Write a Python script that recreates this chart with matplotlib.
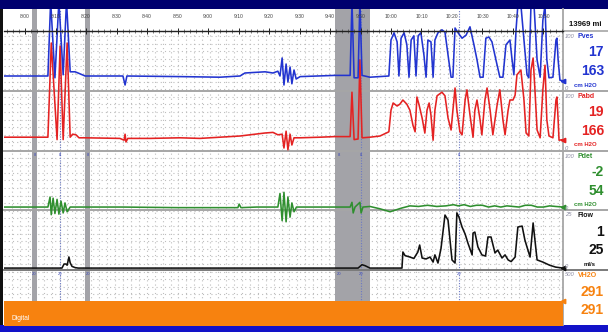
import matplotlib
matplotlib.use("Agg")
import matplotlib.pyplot as plt
from matplotlib.patches import Rectangle, FancyBboxPatch
from matplotlib.lines import Line2D

plt.rcParams['font.family'] = ['Liberation Sans', 'DejaVu Sans']

# ---------------- data ----------------
tick_times = [480, 490, 500, 510, 520, 530, 540, 550, 560, 570, 580, 590,
              600, 610, 620, 630, 640, 650]
tick_labels = ["8:00", "8:10", "8:20", "8:30", "8:40", "8:50", "9:00", "9:10",
               "9:20", "9:30", "9:40", "9:50", "10:00", "10:10", "10:20",
               "10:30", "10:40", "10:50"]

pves_t = [473.1, 487.5, 488.4, 489.8, 491.1, 492.5, 493.6, 494.8, 496.4, 497.4,
          499.7, 512.1, 512.8, 513.4, 530.8, 543.9, 550.5, 552.1, 555.4, 558.7,
          561.3, 562.9, 563.6, 564.3, 564.9, 565.6, 566.2, 566.9, 567.5, 568.2,
          568.9, 570.2, 581.6, 586.6, 587.2, 587.9, 589.2, 589.8, 590.5, 593.1,
          599.3, 600.0, 601.0, 602.0, 602.6, 603.3, 604.3, 605.2, 605.9, 606.6,
          607.5, 608.2, 608.9, 609.8, 610.8, 611.5, 612.1, 613.1, 613.8, 614.4,
          615.4, 616.7, 617.7, 618.7, 619.7, 620.3, 621.0, 622.0, 623.3, 624.6,
          625.9, 627.2, 628.2, 629.2, 630.2, 631.1, 632.1, 633.1, 634.4, 635.7,
          636.7, 637.7, 639.0, 639.7, 640.3, 641.0, 641.6, 642.6, 643.6, 644.6,
          645.2, 645.9, 646.9, 647.9, 648.9, 649.8, 650.5, 651.1, 651.8, 653.1,
          654.1, 654.4, 654.8, 655.4, 656.4]
pves_v = [25, 25, 150, 22, 150, 27, 150, 32, 32, 30,
          25, 25, 10, 25, 24, 23, 25, 30, 31, 32,
          30, 33, 25, 55, 10, 45, 15, 40, 12, 35,
          20, 24, 26, 26, 150, 22, 22, 150, 26, 23,
          25, 85, 97, 82, 25, 88, 97, 77, 23, 85,
          92, 25, 92, 97, 60, 23, 85, 82, 23, 85,
          97, 102, 98, 60, 23, 23, 105, 97, 88, 93,
          107, 77, 52, 23, 23, 88, 90, 82, 52, 23,
          23, 77, 85, 52, 27, 102, 143, 143, 85, 27,
          22, 143, 143, 52, 23, 118, 143, 52, 22, 23,
          85, 88, 52, 18, 17]

pabd_t = [473.1, 487.5, 488.6, 490.5, 491.5, 492.5, 493.8, 494.8, 495.6, 496.7,
          497.7, 499.7, 511.1, 512.5, 512.8, 513.1, 513.7, 521.0, 530.8, 537.4,
          543.9, 550.5, 555.4, 558.7, 561.3, 562.9, 564.3, 564.9, 565.6, 566.2,
          566.9, 567.5, 568.2, 570.2, 576.7, 581.6, 586.6, 587.2, 587.9, 589.2,
          589.8, 590.5, 593.1, 596.4,
          599.3, 600.0, 600.7, 602.0, 602.9, 603.9, 605.2, 606.2, 607.2, 607.9,
          608.5, 609.2, 610.2, 611.1, 611.8, 612.5, 613.1, 613.8, 614.4, 615.1,
          616.7, 617.7, 618.7, 619.7, 620.3, 621.0, 621.6, 622.6, 623.3, 624.3,
          624.9, 625.9, 626.9, 627.5, 628.2, 629.2, 629.8, 630.8, 631.5, 632.5,
          633.4, 634.8, 635.7, 636.7, 637.4, 638.4, 639.0, 640.0, 640.7, 641.3,
          642.6, 643.6, 644.3, 645.2, 645.9, 646.6, 647.2, 647.9, 648.9, 649.8,
          650.5, 651.1, 651.8, 653.1, 654.1, 654.4, 654.8, 655.1, 656.4]
pabd_v = [23, 23, 180, 19, 175, 19, 180, 23, 28, 27,
          22, 22, 21, 18, 28, 15, 21, 21, 22, 21,
          23, 25, 28, 30, 31, 27, 28, 5, 33, 2,
          28, 10, 22, 22, 23, 24, 24, 98, 19, 20,
          152, 22, 23, 25,
          32, 68, 80, 75, 78, 85, 78, 68, 43, 32,
          90, 77, 55, 30, 68, 80, 60, 18, 68, 92,
          98, 92, 55, 35, 68, 105, 68, 32, 27, 85,
          102, 60, 23, 68, 85, 52, 27, 85, 105, 68,
          27, 77, 102, 52, 27, 68, 85, 85, 93, 127,
          135, 85, 30, 25, 135, 155, 102, 35, 22, 102,
          143, 52, 25, 22, 85, 90, 52, 18, 19]

pdet_t = [473.1, 487.5, 488.2, 488.6, 489.2, 489.8, 490.5, 491.1, 491.8, 492.5,
          493.1, 493.8, 494.8, 512.0, 530.0, 549.8, 550.2, 550.8, 556.0, 562.9,
          563.6, 564.3, 564.9, 565.6, 566.2, 566.9, 567.5, 568.2, 569.0, 581.6,
          586.6, 587.2, 587.6, 588.2, 589.8, 590.2, 590.8, 593.1, 596.4, 599.7,
          603.3, 606.2, 609.0, 612.0, 615.0, 618.0, 620.5, 622.0, 624.0, 626.0,
          628.0, 630.0, 632.0, 634.0, 636.0, 638.0, 640.0, 642.0, 644.0, 646.0,
          648.0, 650.0, 652.0, 654.0, 656.4]
pdet_v = [5, 5, 22, -8, 20, -6, 18, -7, 15, -5,
          12, -3, 5, 5, 4, 4, 10, 4, 5, 5,
          28, -18, 30, -20, 22, -12, 12, -3, 5, 5,
          5, 13, -5, 5, 13, -5, 5, 6, 2, -3,
          3, 7, 6, 8, 6, 7, 9, 7, 9, 6,
          8, 8, 5, 7, 5, 7, 6, 5, 8, 8,
          5, 5, 7, 6, 5]

flow_t = [473.1, 492.1, 492.8, 493.4, 493.8, 494.4, 494.8, 495.4, 496.4, 497.4,
          589.2, 590.5, 591.5, 593.1, 603.6, 603.9, 604.6, 606.2, 607.5, 608.8,
          609.4, 610.2, 611.5, 612.8, 613.8, 614.4, 615.4, 616.4, 617.7, 618.7,
          620.0, 621.0, 621.6, 622.3, 623.3, 624.3, 625.2, 626.6, 626.9, 627.5,
          628.5, 629.8, 631.0, 631.8, 632.8, 634.1, 635.0, 636.4, 637.4, 638.4,
          639.4, 640.7, 641.6, 643.0, 643.9, 644.9, 645.6, 646.6, 647.9, 649.8,
          652.0, 654.0, 656.4]
flow_v = [0.8, 0.8, 2.5, 2.5, 2.0, 5.4, 3.0, 1.5, 1.0, 0.8,
          0.8, 2.2, 1.8, 0.8, 0.8, 7.5, 6.0, 5.4, 4.8, 7.5,
          10.4, 5.0, 4.6, 5.4, 3.3, 6.3, 2.9, 9.0, 22.9, 20.8,
          4.2, 2.9, 23.8, 22.0, 17.9, 15.0, 11.3, 6.3, 15.4, 15.8,
          9.6, 6.3, 5.8, 13.75, 13.75, 7.1, 8.3, 5.0, 6.3, 4.2,
          3.5, 5.4, 17.9, 18.3, 12.5, 8.3, 5.4, 19.6, 4.2, 3.3,
          2.0, 1.2, 0.8]

vol_t = [473.1, 656.4]
vol_v = [291, 291]

marked_spans = [(482.3, 483.9), (499.7, 501.3), (581.6, 593.1)]
event_times = [491.5, 590.2, 622.3]

panel_names = ["Pves", "Pabd", "Pdet", "Flow", "VH2O"]
panel_cur = ["17", "19", "-2", "1", "291"]
panel_max = ["163", "166", "54", "25", "291"]
panel_top = ["100", "100", "100", "25", "500"]
panel_units = ["cm H2O", "cm H2O", "cm H2O", "ml/s", ""]
header_text = "13969 mi"

# ---------------- layout helpers ----------------
W, H = 608.0, 332.0
def fx(px): return px / W
def fy(py): return 1 - py / H

T0, T1 = 473.1, 656.4
PX0, PX1 = 4, 563

c_blue = '#2234d0'
c_red = '#e42222'
c_green = '#2f8f2f'
c_black = '#111111'
c_orange = '#f7820f'
c_sep = '#a6a6a6'

fig = plt.figure(figsize=(6.08, 3.32), dpi=100)
fig.patch.set_facecolor('white')

# grid (dotted) area
ax_grid = fig.add_axes([fx(PX0), fy(302), (PX1 - PX0) / W, 271 / H], zorder=0)
ax_grid.set_xlim(T0, T1)
ax_grid.set_ylim(0, 271)
ax_grid.set_xticks([T0 + 2.6 * i for i in range(1, 71)])
ax_grid.set_yticks([7.6 * i for i in range(1, 36)])
ax_grid.tick_params(length=0, labelbottom=False, labelleft=False)
ax_grid.grid(True, color='#bdbdbd', lw=0.8, linestyle=(0, (1, 2.8)))
for s in ax_grid.spines.values():
    s.set_visible(False)

# background: marked spans and event lines
ax_bg = fig.add_axes([fx(PX0), fy(325), (PX1 - PX0) / W, 316 / H], zorder=1)
ax_bg.set_facecolor('none')
ax_bg.set_xlim(T0, T1)
ax_bg.set_ylim(0, 316)
ax_bg.axis('off')
for a, b in marked_spans:
    ax_bg.axvspan(a, b, ymin=(325 - 304) / 316, ymax=1, color='#a3a3a8', lw=0)
for t in event_times:
    ax_bg.axvline(t, ymin=(325 - 305) / 316, ymax=1, color='#6a78c4',
                  lw=0.8, ls=(0, (1, 1.4)))

# clip rectangle for traces
clip_rect = Rectangle((fx(PX0), fy(325)), (PX1 - PX0) / W, 316 / H,
                      transform=fig.transFigure)

def channel_axes(top_px, bot_px, ylim):
    ax = fig.add_axes([fx(PX0), fy(bot_px), (PX1 - PX0) / W, (bot_px - top_px) / H],
                      zorder=2)
    ax.set_facecolor('none')
    ax.set_xlim(T0, T1)
    ax.set_ylim(*ylim)
    ax.axis('off')
    return ax

ax_vol = channel_axes(270, 345, (0, 500))
fills = ax_vol.fill_between(vol_t, 0, vol_v, color=c_orange, lw=0)
fills.set_clip_path(clip_rect)

ax_flow = channel_axes(210, 270, (0, 25))
ax_pdet = channel_axes(151, 210, (0, 100))
ax_pabd = channel_axes(91, 151, (0, 100))
ax_pves = channel_axes(31, 91, (0, 100))

for ax, t, v, c in [(ax_flow, flow_t, flow_v, c_black),
                    (ax_pdet, pdet_t, pdet_v, c_green),
                    (ax_pabd, pabd_t, pabd_v, c_red),
                    (ax_pves, pves_t, pves_v, c_blue)]:
    ln, = ax.plot(t, v, color=c, lw=1.15, solid_joinstyle='round')
    ln.set_clip_path(clip_rect)
    ax.plot([t[-1]], [v[-1]], marker='<', color=c, ms=3.2, clip_on=False)
ax_vol.plot([vol_t[-1]], [vol_v[-1]], marker='<', color=c_orange, ms=3.2, clip_on=False)

# time ruler
ax_r = fig.add_axes([fx(PX0), fy(31), (PX1 - PX0) / W, 22 / H], zorder=3)
ax_r.set_facecolor('none')
ax_r.set_xlim(T0, T1)
ax_r.set_ylim(0, 1)
for k in ['top', 'left', 'right']:
    ax_r.spines[k].set_visible(False)
ax_r.spines['bottom'].set_color('#222222')
ax_r.spines['bottom'].set_linewidth(1.0)
ax_r.set_yticks([])
ax_r.set_xticks(tick_times)
ax_r.set_xticks([T0 + 0.9 + 2 * i for i in range(0, 92)], minor=True)
ax_r.tick_params(axis='x', which='major', direction='inout', length=5, width=0.7,
                 color='#222222', labelbottom=False)
ax_r.tick_params(axis='x', which='minor', direction='inout', length=2.5, width=0.5,
                 color='#444444')
for t, lab in zip(tick_times, tick_labels):
    ax_r.text(t, 0.68, lab, ha='center', va='center', fontsize=3.6, color='#444444')

# separators
for y, col, lw in [(91, c_sep, 1.4), (151, c_sep, 1.4), (210, c_sep, 1.4),
                   (270, '#7a7a7a', 1.4)]:
    fig.add_artist(Line2D([fx(PX0), 1], [fy(y), fy(y)], color=col, lw=lw, zorder=1.5))
fig.add_artist(Line2D([fx(PX1), 1], [fy(31), fy(31)], color=c_sep, lw=1.2))
fig.add_artist(Line2D([fx(PX1), fx(PX1)], [fy(9), fy(325)], color=c_sep, lw=1.3))

# small event markers
for t in [483.1, 491.5, 500.5, 583.0, 590.2, 622.3]:
    xp = PX0 + (t - T0) / (T1 - T0) * (PX1 - PX0)
    fig.text(fx(xp), fy(274), "20", fontsize=3.0, color='#3a48b8', ha='center', va='center')
    fig.text(fx(xp), fy(155), "8", fontsize=3.0, color='#3a48b8', ha='center', va='center')

# borders and bands
fig.add_artist(Rectangle((0, fy(325)), fx(3), (325 - 9) / H, transform=fig.transFigure,
                         color='#111111', lw=0))
fig.add_artist(Rectangle((0, fy(9)), 1, 9 / H, transform=fig.transFigure,
                         color='#00006e', lw=0))
fig.add_artist(Rectangle((0, 0), 1, 7 / H, transform=fig.transFigure,
                         color='#1212c8', lw=0))
fig.add_artist(FancyBboxPatch((fx(7), fy(325)), fx(123), 15 / H,
                              boxstyle='round,pad=0,rounding_size=0.006',
                              transform=fig.transFigure, facecolor='#86a0e2',
                              edgecolor='#c4d2f4', lw=0.8))
fig.text(fx(12), fy(318), "Digital", fontsize=4.8, color='white', va='center', ha='left')

# right panel
fig.text(fx(569), fy(25), header_text, fontsize=5.6, fontweight='bold', color='#111111',
         va='center', ha='left')
panel_colors = [c_blue, c_red, c_green, c_black, c_orange]
tops = [31, 91, 151, 210, 270]
for i in range(5):
    y0 = tops[i]
    col = panel_colors[i]
    fig.text(fx(565), fy(y0 + 5), panel_top[i], fontsize=4.2, style='italic',
             color='#8a8aa0', va='center', ha='left')
    fig.text(fx(578), fy(y0 + 5.5), panel_names[i], fontsize=5.0, fontweight='bold',
             color=col, va='center', ha='left')
    fig.text(fx(604), fy(y0 + 21.5), panel_cur[i], fontsize=10, fontweight='bold',
             color=col, va='center', ha='right')
    fig.text(fx(604), fy(y0 + 40), panel_max[i], fontsize=10, fontweight='bold',
             color=col, va='center', ha='right')
    if i < 4:
        fig.text(fx(565), fy(y0 + 57), "0", fontsize=4.2, style='italic',
                 color='#8a8aa0', va='center', ha='left')
        fig.text(fx(574) if i < 3 else fx(584), fy(y0 + 54), panel_units[i], fontsize=4.3,
                 fontweight='bold', color=col, va='center', ha='left')

fig.savefig('out.png', dpi=100)
